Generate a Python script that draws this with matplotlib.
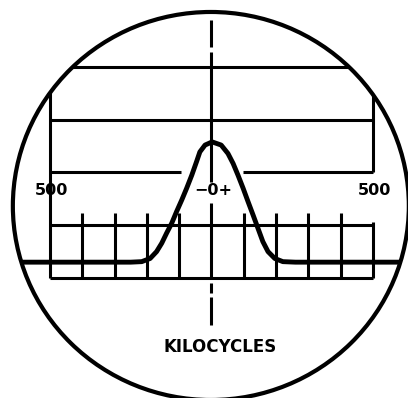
import matplotlib
matplotlib.use("Agg")
import matplotlib.pyplot as plt
from matplotlib.patches import Ellipse

# ---- data ----
# frequency offset in kilocycles, response height in graticule divisions
curve_kc = [-650, -400, -250, -216, -190, -170, -154, -139, -123, -108, -92, -77, -61,
            -46, -36, -20, 2, 30, 51, 67, 82, 98, 113, 129, 144, 159, 175, 196, 221,
            260, 400, 650]
curve_level = [0.30, 0.30, 0.30, 0.31, 0.37, 0.50, 0.66, 0.85, 1.04, 1.26, 1.48, 1.70, 1.95,
               2.21, 2.39, 2.52, 2.58, 2.52, 2.36, 2.17, 1.95, 1.70, 1.45, 1.19, 0.94, 0.69,
               0.50, 0.37, 0.31, 0.30, 0.30, 0.30]
tick_kc = [-400, -300, -200, -100, 100, 200, 300, 400]
grid_levels = [0, 1, 3, 4]
edge_label = "500"
centre_label = "\u22120+"
axis_label = "KILOCYCLES"

# ---- figure ----
fig = plt.figure(figsize=(4.08, 3.98), dpi=100)
ax = fig.add_axes([0, 0, 1, 1])
ax.set_xlim(-654.8, 608.4)
ax.set_ylim(-2.275, 5.270)
ax.axis("off")

K = "black"
circle = Ellipse((-2, 1.365), 2 * 613, 2 * 3.678, fill=False, ec=K, lw=3.0)
ax.add_patch(circle)

def seg(xs, ys, lw=2.2, clip=True, **kw):
    ln, = ax.plot(xs, ys, color=K, lw=lw, solid_capstyle="butt", **kw)
    if clip:
        ln.set_clip_path(circle)
    return ln

# horizontal graticule lines
for lv in grid_levels:
    seg([-500, 500], [lv, lv])
seg([-500, -95], [2, 2])
seg([97, 500], [2, 2])

# border verticals
seg([-500, -500], [0, 6])
seg([500, 500], [0, 1.06])
seg([500, 500], [2.01, 6])

# small ticks
for t in tick_kc:
    seg([t, t], [0, 1.23])

# centre line (dash-dot style)
for y0, y1 in [(4.89, 4.38), (4.28, 1.82), (1.42, 0), (-0.095, -0.284), (-0.36, -0.89)]:
    seg([0, 0], [y0, y1], clip=False)

# response curve
ln, = ax.plot(curve_kc, curve_level, color=K, lw=3.5, solid_joinstyle="round",
              solid_capstyle="round")
ln.set_clip_path(circle)

# labels
fs = dict(fontsize=11.5, fontweight="bold", color=K, ha="center", va="center",
          family="DejaVu Sans")
ax.text(-494, 1.65, edge_label, **fs)
ax.text(506, 1.65, edge_label, **fs)
ax.text(5, 1.65, centre_label, **fs)
ax.text(26, -1.31, axis_label, fontsize=12, fontweight="bold", color=K,
        ha="center", va="center", family="DejaVu Sans")

fig.savefig("out.png", dpi=100)
